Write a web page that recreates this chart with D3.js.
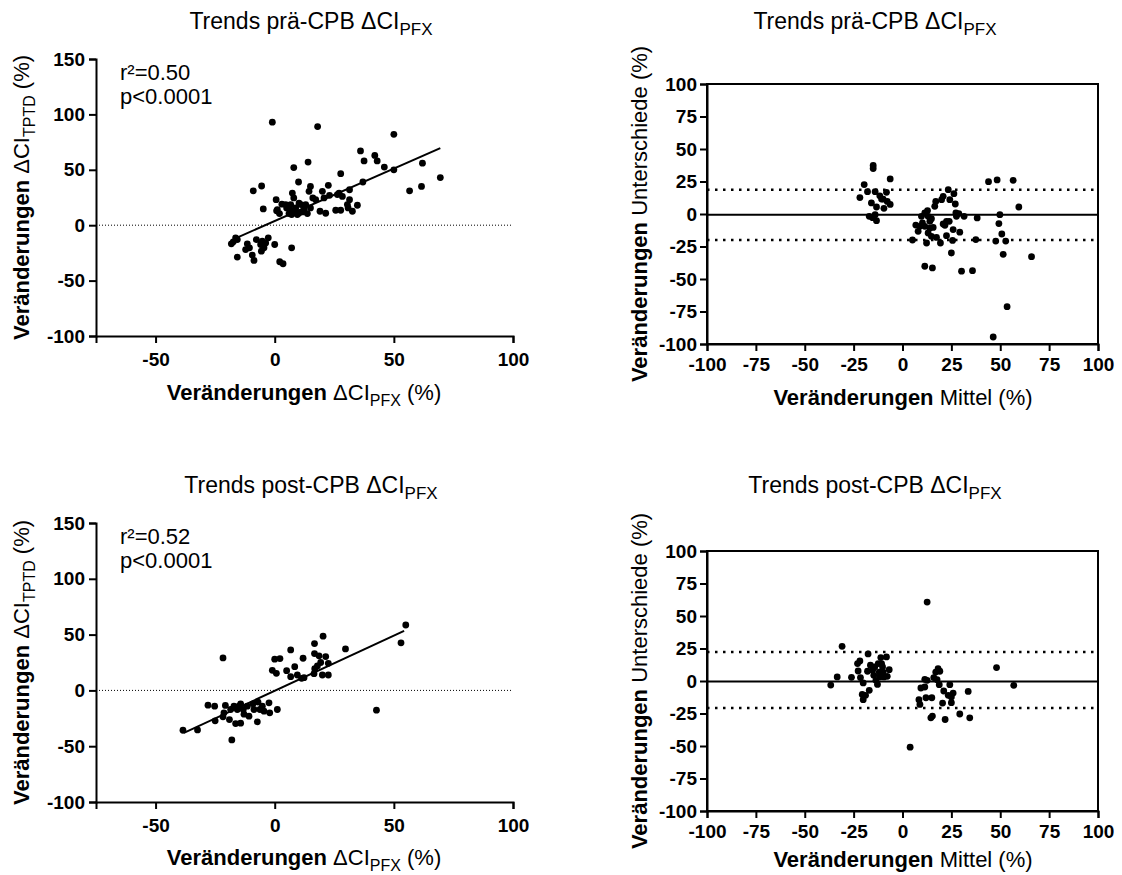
<!DOCTYPE html>
<html>
<head>
<meta charset="utf-8">
<script src="https://cdn.jsdelivr.net/npm/d3@7"></script>
<style>
body { margin: 0; background: #fff; }
text { font-family: "Liberation Sans", Arial, sans-serif; fill: #000; }
</style>
</head>
<body>
<script>
// pre-CPB: ΔCI PFX vs ΔCI TPTD (%)
var prePfx = [-1,18,50,36,37.5,42,43,46,50,62, 69.5,56.6,61.6,14,8,10,27.7,37,22.5,15,
  -9,-5.5,-4.8,0.6,0.8,2,3,5,6.7,8, 8,9.5,11,12.3,13.7,14.4,16,20,20.7,19,
  21.4,25.6,27.7,26.3,28.4,31.4,31.4,30.5,32.6,34.7, 7.4,10.2,6.3,8.8,11.6,1.1,
  -16.4,-17.4,-15.7,-18.2,-11.5,-12.2,-10.6,-15.7,-9.4,-8.7,-7.7,-5.9,-5.2,-2.7,-4.5,-5.6,0,7.1,2.1,3.5,-3.8,
  4.6,6,13,15,7.1,10.2,17.2,23,27,30.8];
var preTptd = [93,89,82,67,58,63,58,52.5,50,56, 43,31,35,57,52,39,46.5,39,36,35,
  31,35.4,14.7,23,13,10.5,19,15.6,18.6,24.6, 12.6,9.6,18.6,14,10.5,30.6,24.6,30.6,24.6,12.6,
  10.8,13.5,13.5,27.6,26,32,23,18.6,12.6,18, 29,20,14.7,15.6,12,14,
  -11.4,-15,-13,-16.8,-16.8,-22,-20.4,-28.8,-27,-31.8,-13,-17.4,-14.4,-11.4,-20.4,-23.4,-17.4,-20.4,-33,-34.8,-16,
  18.6,10.5,18.6,15.6,9.6,11,23,27,29,15.6];
var preFitX = [-16, 69.5];
var preFitY = [-11.4, 69.6];
var preStats = ['r²=0.50', 'p<0.0001'];

// post-CPB
var postPfx = [55,53,42.7,20.3,16.7,29.7,6.7,11.9,0,2.2, 16.7,18.6,21.4,22.5,19.3,8.4,-1,0.7,5,6.7,
  9.5,11.3,12.3,16.5,16.8,20,22.5,17.9,-21.7,
  -38.5,-32.4,-18,-28,-25.2,-25,-21.7,-20.7,-21.3,-19, -18.5,-16.4,-14.3,-14.3,-13.2,-12.9,-10.8,-11.5,-9.1,-7.3,
  -7,-6.2,-5.2,-2.4,-2.1,1.1,-15.7,-8.7,-4.5,-17.1,-15];
var postTptd = [58.6,42.6,-17.7,48.6,42,37.2,36.3,28.8,28,28.5, 33,31,30.3,24.3,25,21.3,18,15.3,17.7,12.3,
  13.8,10.8,11.4,15,19.5,13.8,13.8,21.9,29.1,
  -35.7,-35.4,-44.4,-13.2,-14.1,-27.3,-23.7,-13.5,-20.1,-26.1, -17.1,-29.7,-29.4,-12,-17.1,-21.3,-23.1,-14.1,-12,-28.2,
  -10.5,-17.1,-14.1,-11.1,-20.1,-17.1,-17.1,-17.1,-18.6,-14.1,-14.1];
var postFitX = [-38.1, 54.3];
var postFitY = [-38.1, 53.4];
var postStats = ['r²=0.52', 'p<0.0001'];

// Bland-Altman pre-CPB: Mittel vs Unterschiede (%)
var baPreMean = [-15,-15,-19.6,-21.8,-17.9,-14,-6.3,-8.2,-11.6,-9.9, -7.8,-15.9,-13.3,-9.5,-6.3,-17,-15.3,-14,-13.3,-10.7,
  5.1,6.8,8,9.7,11.4,12.8,11.4,12.3,13.1,14, 14.8,15.7,16.5,17,17.4,19.4,20,20.8,20.8,22.5,
  23.4,23.9,24.2,25,25.6,25.9,26.3,27,27.3,27.6, 29.3,28.8,31.5,30.2,35.8,38.2,37.5,11.4,15.3,21.7,
  22.5,10.2,13.1,14.8,8.9,14,
  44,48.4,56.6,59.5,49.8,49.3,50.8,47.7,52.8,51.5,66,53.5,46.4];
var baPreDiff = [37.4,35,22.6,12.6,17.2,17.2,27,16.7,14,11.5, 9.7,8.5,5.4,4.4,7.4,-1.8,-2.8,-0.5,-5.1,11.5,
  -20,-8.5,-13.3,-1.8,0.8,2.6,-9.5,-22.3,-14.6,-5.6, -17.2,-10.3,5.9,9.7,-18,-22.3,11,13.6,-7.7,-16.7,
  18.7,-5.6,11,-30,-20.3,-12,15.6,7.7,0.8,-1.8, -14,0.3,-1.8,-44,-43.6,-3,-19.7,-40.2,-41.5,-8.7,
  -5.6,-6.9,-1.8,-3.6,-9.5,-10.8,
  24.9,26.2,25.9,5.4,-0.5,-7.4,-15.4,-20.8,-20.8,-31,-32.8,-71.3,-94.6];
var baPreLines = [18.7, -0.5, -20];   // upper limit, bias, lower limit

// Bland-Altman post-CPB
var baPostMean = [12.6,3.9,-30.9,-36.7,-33.4,-26.1,-22.7,-23,-21.8,-21.5, -20.1,-20.6,-20.1,-18.9,-17.6,-17,-16.4,-17.9,-15.3,-14.7,
  -13.6,-12.8,-12.4,-11.1,-10.7,-10.2,-9.9,-9.5,-11.6,-8.2, -7.8,-6.8,-11.9,-14.2,
  8.9,8.4,9.4,11.4,11.4,12.6,12,14.5,15.3,15, 16,17,17.7,18.2,19.1,18.8,20.5,21.1,21.8,23.4,
  24.2,25,25,25.9,29.3,33.6,34.4,48.1,56.9];
var baPostDiff = [60.7,-50.9,26.7,-3.1,3.1,2.8,7.7,13.4,15.4,2.6, -1.5,-10.3,-14.4,-11,20.8,-7.2,12.1,7.5,8.2,4.4,
  0.5,-2.6,13.4,18,13.4,10.8,6.9,3.1,3.1,18.5, 3.6,8.7,6.9,10.8,
  -18,-14.4,-5.4,-4.6,1.3,0.5,-12.9,-28.3,-27,-12.9, 2.6,6.9,1,9.5,7.5,-2.8,-17,-7.7,-29.6,-11,
  -2.8,-16.7,-12.3,-9.3,-25.4,-8,-28.3,10.3,-3.3];
var baPostLines = [22.4, -0.3, -20.8];

var scatterXTicks = [-50, 0, 50, 100];
var scatterYTicks = [-100, -50, 0, 50, 100, 150];
var baTicks = [-100, -75, -50, -25, 0, 25, 50, 75, 100];

var svg = d3.select('body').append('svg')
  .attr('width', 1122)
  .attr('height', 875);

// plain hyphen instead of d3's unicode minus
var fmt = function(d) { return String(d); };

// writes a label made of parts: [text, bold?, dy, font-size]
function rich(t, parts) {
  parts.forEach(function(p) {
    var s = t.append('tspan').text(p[0]);
    if (p[1]) s.style('font-weight', 'bold');
    if (p[2]) s.attr('dy', p[2]);
    if (p[3]) s.style('font-size', p[3] + 'px');
  });
}

function styleAxis(g) {
  g.select('.domain').attr('stroke-width', 2);
  g.selectAll('.tick line').attr('stroke-width', 2);
  g.selectAll('.tick text')
    .style('font-size', '19px')
    .style('font-weight', 'bold')
    .attr('fill', '#000');
}

function title(cx, y, word) {
  var t = svg.append('text')
    .attr('x', cx).attr('y', y)
    .attr('text-anchor', 'middle')
    .style('font-size', '23px');
  rich(t, [['Trends ' + word + '-CPB ΔCI'], ['PFX', false, 6, 17]]);
}

function yLabel(x, cy, parts) {
  var t = svg.append('text')
    .attr('transform', 'translate(' + x + ',' + cy + ') rotate(-90)')
    .attr('text-anchor', 'middle')
    .style('font-size', '22px');
  rich(t, parts);
}

function xLabel(cx, y, parts) {
  var t = svg.append('text')
    .attr('x', cx).attr('y', y)
    .attr('text-anchor', 'middle')
    .style('font-size', '22px');
  rich(t, parts);
}

function scatterPanel(p) {
  var x = d3.scaleLinear().domain([-75, 100]).range([96, 513]);
  var y = d3.scaleLinear().domain([-100, 150]).range([p.bottom, p.top]);
  var g = svg.append('g');

  // dotted zero line
  g.append('line')
    .attr('x1', x(-75)).attr('x2', x(100))
    .attr('y1', y(0)).attr('y2', y(0))
    .attr('stroke', '#000')
    .attr('stroke-width', 1)
    .attr('stroke-dasharray', '1,2');

  g.selectAll('circle')
    .data(p.xs)
    .enter().append('circle')
      .attr('cx', function(d) { return x(d); })
      .attr('cy', function(d, i) { return y(p.ys[i]); })
      .attr('r', 3.4)
      .attr('fill', '#000');

  // linear fit
  g.append('line')
    .attr('x1', x(p.fitX[0])).attr('y1', y(p.fitY[0]))
    .attr('x2', x(p.fitX[1])).attr('y2', y(p.fitY[1]))
    .attr('stroke', '#000')
    .attr('stroke-width', 2);

  g.append('g')
    .attr('transform', 'translate(0,' + p.bottom + ')')
    .call(d3.axisBottom(x).tickValues(scatterXTicks).tickFormat(fmt).tickSizeOuter(0).tickSize(7).tickPadding(10))
    .call(styleAxis);
  g.append('g')
    .attr('transform', 'translate(96,0)')
    .call(d3.axisLeft(y).tickValues(scatterYTicks).tickFormat(fmt).tickSizeOuter(0).tickSize(7).tickPadding(4))
    .call(styleAxis);

  p.stats.forEach(function(s, i) {
    g.append('text')
      .attr('x', 120)
      .attr('y', p.top + 21 + i * 24)
      .style('font-size', '22px')
      .text(s);
  });

  title(311, p.titleY, p.word);
  yLabel(29, (p.top + p.bottom) / 2,
    [['Veränderungen ', true], ['ΔCI'], ['TPTD', false, 6, 16], [' (%)', false, -6]]);
  xLabel(304, p.bottom + p.labelGap,
    [['Veränderungen ', true], ['ΔCI'], ['PFX', false, 6, 16], [' (%)', false, -6]]);
}

function baPanel(p) {
  var x = d3.scaleLinear().domain([-100, 100]).range([707, 1098]);
  var y = d3.scaleLinear().domain([-100, 100]).range([p.bottom, p.top]);
  var g = svg.append('g');

  g.selectAll('line.lim')
    .data(p.lines)
    .enter().append('line')
      .attr('class', 'lim')
      .attr('x1', x(-100)).attr('x2', x(100))
      .attr('y1', function(d) { return y(d); })
      .attr('y2', function(d) { return y(d); })
      .attr('stroke', '#000')
      .attr('stroke-width', function(d, i) { return i === 1 ? 2 : 2.5; })
      .attr('stroke-dasharray', function(d, i) { return i === 1 ? null : '2.5,5.5'; });

  g.selectAll('circle')
    .data(p.xs)
    .enter().append('circle')
      .attr('cx', function(d) { return x(d); })
      .attr('cy', function(d, i) { return y(p.ys[i]); })
      .attr('r', 3.4)
      .attr('fill', '#000');

  // frame
  g.append('rect')
    .attr('x', x(-100)).attr('y', y(100))
    .attr('width', x(100) - x(-100))
    .attr('height', y(-100) - y(100))
    .attr('fill', 'none')
    .attr('stroke', '#000')
    .attr('stroke-width', 2);

  g.append('g')
    .attr('transform', 'translate(0,' + p.bottom + ')')
    .call(d3.axisBottom(x).tickValues(baTicks).tickFormat(fmt).tickSizeOuter(0).tickSize(7).tickPadding(7))
    .call(styleAxis);
  g.append('g')
    .attr('transform', 'translate(707,0)')
    .call(d3.axisLeft(y).tickValues(baTicks).tickFormat(fmt).tickSizeOuter(0).tickSize(7).tickPadding(3))
    .call(styleAxis);

  title(875, p.titleY, p.word);
  yLabel(647, (p.top + p.bottom) / 2,
    [['Veränderungen ', true], ['Unterschiede (%)']]);
  xLabel(903, p.bottom + p.labelGap,
    [['Veränderungen ', true], ['Mittel (%)']]);
}

scatterPanel({ top: 59, bottom: 336, xs: prePfx, ys: preTptd, fitX: preFitX, fitY: preFitY, stats: preStats, word: 'prä', titleY: 29, labelGap: 64 });
scatterPanel({ top: 523, bottom: 802, xs: postPfx, ys: postTptd, fitX: postFitX, fitY: postFitY, stats: postStats, word: 'post', titleY: 493, labelGap: 63 });
baPanel({ top: 84, bottom: 344, xs: baPreMean, ys: baPreDiff, lines: baPreLines, word: 'prä', titleY: 29, labelGap: 61 });
baPanel({ top: 551, bottom: 811, xs: baPostMean, ys: baPostDiff, lines: baPostLines, word: 'post', titleY: 493, labelGap: 56 });
</script>
</body>
</html>
